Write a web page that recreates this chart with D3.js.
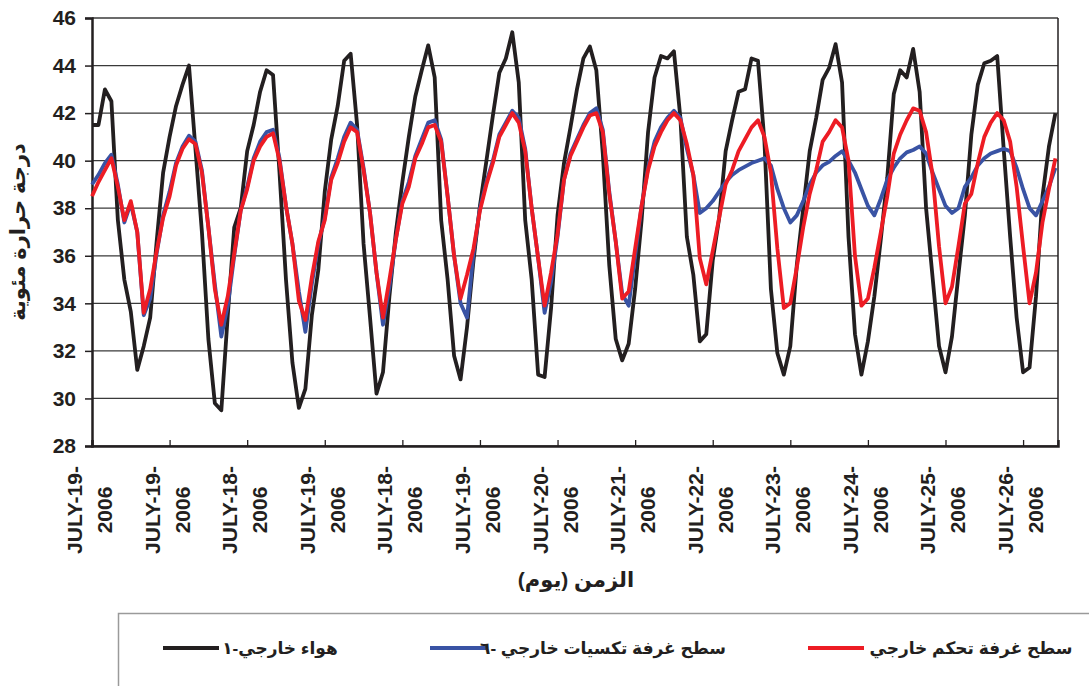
<!DOCTYPE html>
<html>
<head>
<meta charset="utf-8">
<script src="https://cdn.jsdelivr.net/npm/d3@7"></script>
<style>
  body { margin: 0; background: #fff; }
  text { font-family: "Liberation Sans", Arial, "DejaVu Sans", sans-serif; font-weight: bold; fill: #231f20; }
</style>
</head>
<body>
<svg id="chart" width="1089" height="686"></svg>
<script>
// readings every 2 hours, 12 per day
const dayLabels = ["JULY-19-", "JULY-19-", "JULY-18-", "JULY-19-", "JULY-18-", "JULY-19-", "JULY-20-",
                   "JULY-21-", "JULY-22-", "JULY-23-", "JULY-24-", "JULY-25-", "JULY-26-"];
const yearLabel = "2006";
const yTicks = [28, 30, 32, 34, 36, 38, 40, 42, 44, 46];

// هواء خارجي-١
const outsideAir = [
  41.5, 41.5, 43.0, 42.5, 37.5, 35.0, 33.65, 31.2, 32.2, 33.4, 36.6, 39.5, 41.0,
  42.3, 43.2, 44.0, 40.5, 37.0, 32.5, 29.8, 29.5, 33.5, 37.2, 38.0, 40.4,
  41.5, 42.9, 43.8, 43.6, 39.5, 35.0, 31.5, 29.6, 30.4, 33.5, 35.4, 38.7,
  40.9, 42.3, 44.2, 44.5, 41.5, 36.5, 33.4, 30.2, 31.1, 34.3, 37.0, 39.1,
  41.0, 42.7, 43.8, 44.85, 43.5, 37.5, 35.0, 31.8, 30.8, 33.0, 35.8, 38.1,
  40.0, 41.9, 43.7, 44.3, 45.4, 43.3, 37.5, 35.0, 31.0, 30.9, 33.8, 37.7,
  39.9, 41.4, 43.0, 44.3, 44.8, 43.8, 40.3, 35.6, 32.5, 31.6, 32.3, 34.6, 37.5,
  41.2, 43.5, 44.4, 44.3, 44.6, 41.8, 36.8, 35.2, 32.4, 32.7, 35.8, 37.6,
  40.4, 41.7, 42.9, 43.0, 44.3, 44.2, 40.8, 34.6, 31.9, 31.0, 32.2, 35.6, 38.0,
  40.4, 41.8, 43.4, 43.9, 44.9, 43.3, 36.8, 32.7, 31.0, 32.4, 34.3, 36.7, 39.3,
  42.8, 43.8, 43.5, 44.7, 42.9, 38.0, 35.1, 32.2, 31.1, 32.6, 35.2, 37.7,
  41.1, 43.2, 44.1, 44.2, 44.4, 40.5, 36.8, 33.4, 31.1, 31.3, 34.3, 38.5, 40.6, 42.0
];

// سطح غرفة تكسيات خارجي -٦
const cladRoof = [
  39.0, 39.4, 39.9, 40.25, 39.0, 37.4, 38.2, 37.0, 33.5, 34.2, 36.1, 37.7, 38.7,
  39.9, 40.6, 41.05, 40.8, 39.6, 37.2, 34.8, 32.6, 33.9, 36.0, 37.9, 38.9,
  40.1, 40.8, 41.2, 41.3, 40.1, 38.1, 36.5, 34.5, 32.8, 34.8, 36.5, 37.6,
  39.3, 40.1, 41.0, 41.6, 41.3, 39.7, 37.8, 35.3, 33.1, 34.7, 36.7, 38.3,
  39.1, 40.2, 40.9, 41.6, 41.7, 40.9, 38.5, 36.0, 34.0, 33.4, 36.1, 38.0,
  39.1, 40.0, 41.1, 41.6, 42.1, 41.8, 40.5, 38.0, 35.9, 33.6, 34.9, 36.8,
  39.2, 40.3, 40.9, 41.5, 42.0, 42.2, 41.3, 38.7, 36.6, 34.4, 33.9, 36.0, 38.1,
  39.7, 40.8, 41.4, 41.8, 42.1, 41.8, 40.5, 39.4, 37.8, 38.0, 38.3, 38.7,
  39.1, 39.4, 39.6, 39.75, 39.9, 40.0, 40.1, 39.8, 38.8, 38.0, 37.4, 37.7, 38.3,
  39.0, 39.5, 39.8, 39.95, 40.2, 40.4, 40.0, 39.5, 38.8, 38.1, 37.7, 38.4, 39.2,
  39.7, 40.1, 40.35, 40.45, 40.6, 40.3, 39.5, 38.8, 38.1, 37.8, 38.0, 38.9,
  39.3, 39.8, 40.1, 40.3, 40.4, 40.5, 40.4, 39.7, 38.8, 38.0, 37.7, 38.3, 38.9, 39.7
];

// سطح غرفة تحكم خارجي
const controlRoof = [
  38.5, 39.1, 39.6, 40.1, 38.9, 37.5, 38.3, 37.0, 33.6, 34.6, 36.2, 37.6, 38.5,
  39.8, 40.5, 40.9, 40.7, 39.5, 37.2, 34.6, 33.1, 34.3, 36.1, 37.9, 38.8,
  40.0, 40.6, 41.0, 41.15, 40.0, 38.1, 36.5, 34.1, 33.3, 35.1, 36.6, 37.5,
  39.2, 39.9, 40.8, 41.4, 41.2, 39.6, 37.8, 35.3, 33.4, 35.0, 36.7, 38.2,
  38.9, 40.1, 40.7, 41.4, 41.5, 40.8, 38.5, 36.0, 34.2, 35.2, 36.3, 37.9,
  39.0, 39.9, 41.0, 41.5, 42.0, 41.6, 40.4, 38.0, 35.9, 33.9, 35.3, 36.9,
  39.2, 40.2, 40.8, 41.4, 41.9, 42.0, 41.2, 38.6, 36.6, 34.2, 34.5, 36.3, 38.1,
  39.6, 40.6, 41.2, 41.7, 42.0, 41.7, 40.7, 39.4, 35.9, 34.8, 36.2, 37.6,
  39.0, 39.6, 40.4, 40.9, 41.4, 41.7, 41.0, 39.5, 36.3, 33.8, 34.0, 35.5, 37.2,
  38.6, 39.6, 40.8, 41.2, 41.7, 41.4, 40.0, 36.0, 33.9, 34.2, 35.5, 37.0, 38.5,
  40.3, 41.1, 41.7, 42.2, 42.1, 41.2, 39.4, 36.4, 34.0, 34.7, 36.4, 38.2,
  38.6, 39.9, 41.0, 41.6, 42.0, 41.7, 40.8, 38.9, 36.4, 34.0, 35.3, 37.4, 38.8, 40.1
];

const series = [
  {name: "هواء خارجي-١", values: outsideAir, color: "#231f20"},
  {name: "سطح غرفة تكسيات خارجي -٦", values: cladRoof, color: "#3953a4"},
  {name: "سطح غرفة تحكم خارجي", values: controlRoof, color: "#ed1c24"}
];

const svg = d3.select('#chart');
const perDay = 12;

const x = d3.scaleLinear().domain([0, 149.4]).range([92, 1058]);
const y = d3.scaleLinear().domain([28, 46]).range([446, 18]);

svg.append('rect').attr('width', 1089).attr('height', 686).attr('fill', '#fff');

// horizontal grid
svg.append('g')
  .selectAll('line')
  .data(yTicks)
  .enter().append('line')
  .attr('x1', x(0)).attr('x2', x(149.4))
  .attr('y1', d => y(d)).attr('y2', d => y(d))
  .attr('stroke', '#3a3a3a')
  .attr('stroke-width', 1.3);

// right border
svg.append('line')
  .attr('x1', x(149.4)).attr('x2', x(149.4))
  .attr('y1', y(46)).attr('y2', y(28))
  .attr('stroke', '#231f20').attr('stroke-width', 1.5);

// y axis
const yAxis = svg.append('g')
  .attr('transform', `translate(${x(0)},0)`)
  .call(d3.axisLeft(y).tickValues(yTicks).tickSize(7).tickPadding(9).tickFormat(d3.format('d')));
yAxis.select('.domain').attr('stroke', '#231f20').attr('stroke-width', 2.5);
yAxis.selectAll('.tick line').attr('stroke', '#231f20').attr('stroke-width', 1.5);
yAxis.selectAll('.tick text').attr('font-size', 21).attr('font-family', null).attr('fill', '#231f20');

// x axis (ticks point into the plot)
const dayIdx = dayLabels.map((d, i) => i * perDay);
const xAxis = svg.append('g')
  .attr('transform', `translate(0,${y(28)})`)
  .call(d3.axisBottom(x).tickValues(dayIdx).tickSize(-6).tickFormat(''));
xAxis.select('.domain').attr('stroke', '#231f20').attr('stroke-width', 2.5);
xAxis.selectAll('.tick line').attr('stroke', '#231f20').attr('stroke-width', 1.3);

const xl = svg.append('g')
  .selectAll('text')
  .data(dayLabels)
  .enter().append('text')
  .attr('transform', (d, i) => `translate(${x(dayIdx[i])},510) rotate(-90)`)
  .attr('text-anchor', 'middle')
  .attr('font-size', 21);
xl.append('tspan').attr('x', 0).attr('y', -10).text(d => d);
xl.append('tspan').attr('x', 0).attr('y', 20).text(yearLabel);

// lines
const line = d3.line()
  .x((d, i) => x(i))
  .y(d => y(d));

svg.append('g')
  .selectAll('path')
  .data(series)
  .enter().append('path')
  .attr('d', s => line(s.values))
  .attr('fill', 'none')
  .attr('stroke', s => s.color)
  .attr('stroke-width', 3.8)
  .attr('stroke-linejoin', 'round');

// axis titles
svg.append('text')
  .attr('transform', 'translate(25,232) rotate(-90)')
  .attr('text-anchor', 'middle')
  .attr('direction', 'rtl')
  .attr('font-size', 21)
  .text('درجة حرارة مئوية');

svg.append('text')
  .attr('x', 576).attr('y', 587)
  .attr('text-anchor', 'middle')
  .attr('direction', 'rtl')
  .attr('font-size', 21)
  .text('الزمن (يوم)');

// legend
svg.append('rect')
  .attr('x', 118.5).attr('y', 613.5)
  .attr('width', 1000).attr('height', 100)
  .attr('fill', 'none')
  .attr('stroke', '#9a9a9a')
  .attr('stroke-width', 1.5);

const legendPos = [
  {lx: 163, tx: 280},
  {lx: 430, tx: 603},
  {lx: 808, tx: 971}
];

const lg = svg.append('g')
  .selectAll('g')
  .data(series)
  .enter().append('g');

lg.append('line')
  .attr('x1', (d, i) => legendPos[i].lx)
  .attr('x2', (d, i) => legendPos[i].lx + 56)
  .attr('y1', 648).attr('y2', 648)
  .attr('stroke', d => d.color)
  .attr('stroke-width', 4);

lg.append('text')
  .attr('x', (d, i) => legendPos[i].tx)
  .attr('y', 654)
  .attr('text-anchor', 'middle')
  .attr('direction', 'rtl')
  .attr('font-size', 17)
  .text(d => d.name);
</script>
</body>
</html>
